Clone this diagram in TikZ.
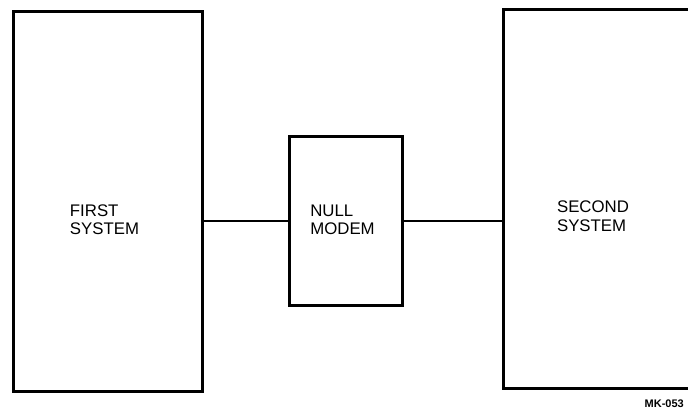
\documentclass[tikz,border=0pt]{standalone}
\usepackage{fontspec}
\setmainfont{Liberation Sans}
\usetikzlibrary{positioning}
\tikzset{sysbox/.style = {draw, line width=3pt, inner sep=0pt},
  caption/.style = {align=left, inner sep=0pt, font=\fontsize{16.8}{18.5}\selectfont},
  link/.style = {line width=2.2pt}}

\begin{document}
\begin{tikzpicture}[x=1pt, y=1pt]
      \useasboundingbox (0,0) rectangle (688,410);
      \node[sysbox, minimum width=189, minimum height=379] (first) at (107.5,208.5) {};
      \node[sysbox, minimum width=113, minimum height=168] (modem) at (345.5,189) {};
      \node[sysbox, minimum width=190, minimum height=378] (second) at (598,211) {};
      \node[caption] (firsttxt) at ([xshift=-3pt, yshift=-18pt]first.center) {FIRST\\SYSTEM};
      \node[caption] (modemtxt) at ([xshift=-3pt, yshift=1pt]modem.center) {NULL\\MODEM};
      \node[caption] (secondtxt) at ([xshift=-5pt, yshift=-17pt]second.center) {SECOND\\SYSTEM};
      \draw[link] (modem.west) -- (modem.west -| first.east);
      \draw[link] (modem.east) -- (modem.east -| second.west);
      \node[anchor=south east, font=\fontsize{11}{12}\selectfont\bfseries, inner sep=0pt] (tag) at (684,2) {MK-053};
    \end{tikzpicture}
\end{document}
